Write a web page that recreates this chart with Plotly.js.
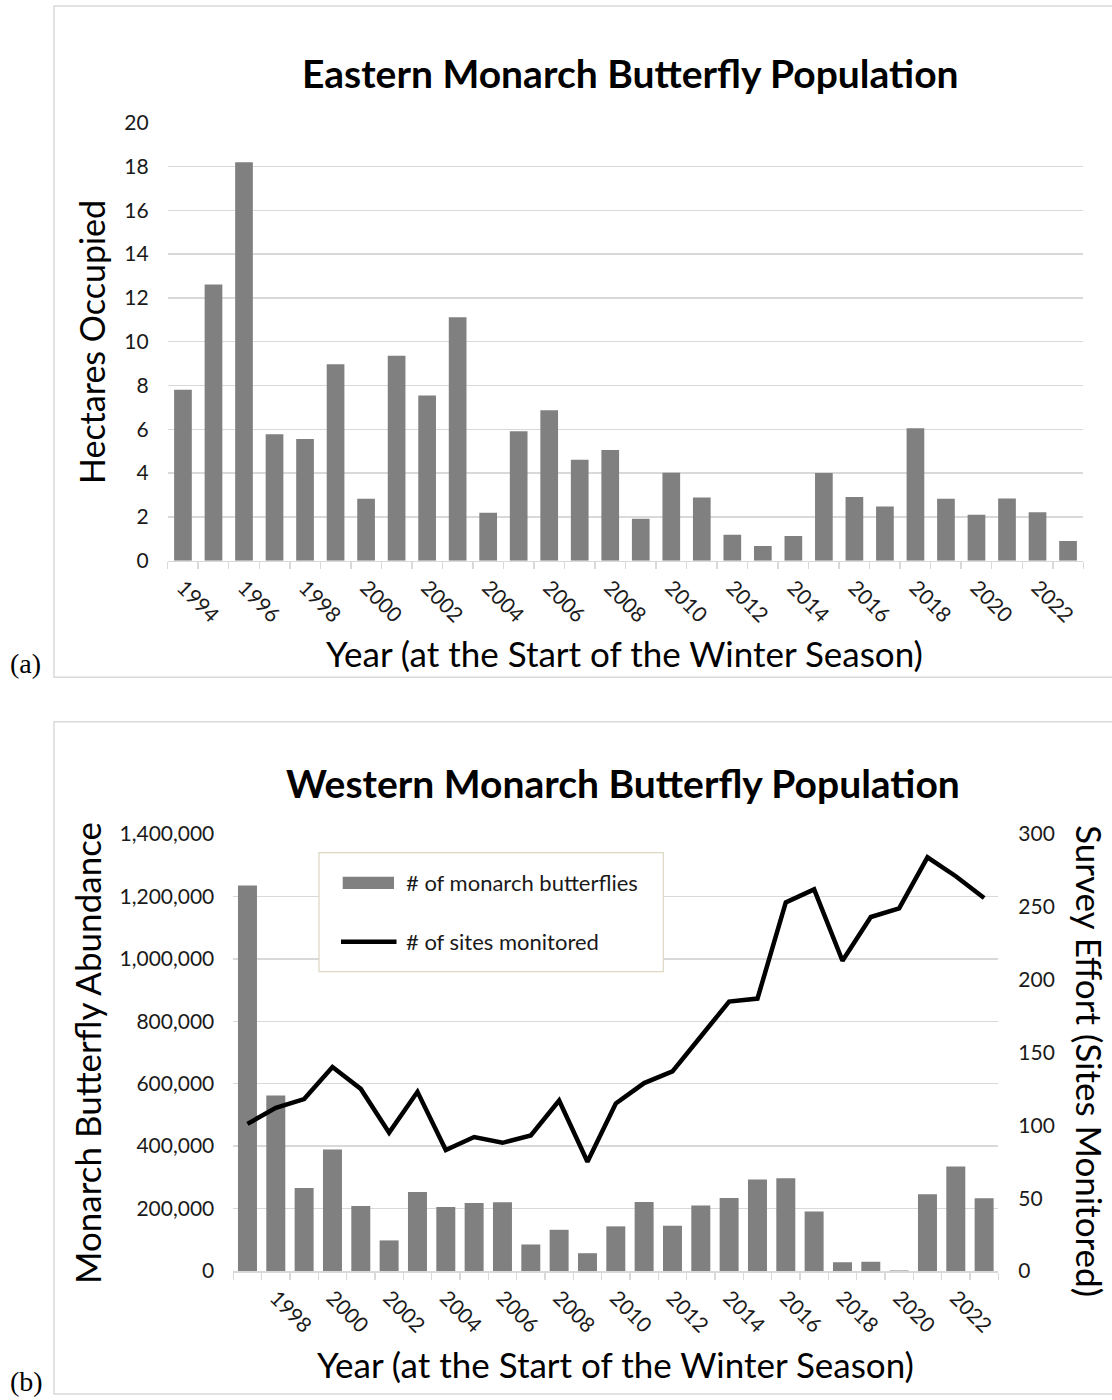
<!DOCTYPE html>
<html>
<head>
<meta charset="utf-8">
<script src="https://cdn.plot.ly/plotly-3.0.1.min.js"></script>
<style>html,body{margin:0;padding:0;background:#fff}</style>
</head>
<body>
<div id="chart" style="width:1112px;height:1400px"></div>
<script>
// ---- Panel (a): Eastern population ----
const eastYears = [1994,1995,1996,1997,1998,1999,2000,2001,2002,2003,2004,2005,2006,2007,2008,2009,2010,2011,2012,2013,2014,2015,2016,2017,2018,2019,2020,2021,2022,2023];
const eastHectares = [7.81,12.61,18.19,5.77,5.56,8.97,2.83,9.36,7.54,11.12,2.19,5.91,6.87,4.61,5.06,1.92,4.02,2.89,1.19,0.67,1.13,4.01,2.91,2.48,6.05,2.83,2.10,2.84,2.21,0.90];
const eastTickYears = [1994,1996,1998,2000,2002,2004,2006,2008,2010,2012,2014,2016,2018,2020,2022];
const eastTickLabels = ["1994","1996","1998","2000","2002","2004","2006","2008","2010","2012","2014","2016","2018","2020","2022"];

// ---- Panel (b): Western population ----
const westYears = [1997,1998,1999,2000,2001,2002,2003,2004,2005,2006,2007,2008,2009,2010,2011,2012,2013,2014,2015,2016,2017,2018,2019,2020,2021,2022,2023];
const westButterflies = [1235000,562000,266000,389000,208000,98000,253000,205000,218000,220000,85000,132000,57000,143000,221000,145000,210000,234000,293000,297000,191000,28000,30000,2000,246000,335000,233000];
const westSites = [101,112,118,140,125,95,123,83,92,88,93,117,75,115,129,137,161,185,187,253,262,213,243,249,284,271,256];
const westTickYears = [1998,2000,2002,2004,2006,2008,2010,2012,2014,2016,2018,2020,2022];
const westTickLabels = ["1998","2000","2002","2004","2006","2008","2010","2012","2014","2016","2018","2020","2022"];

const W = 1112, H = 1400;
const px = v => v / W;
const py = v => 1 - v / H;

const FONT = 'Lato, "Open Sans", "DejaVu Sans", sans-serif';
const GRID = '#d9d9d9';
const BAR = '#808080';
const TXT = '#1a1a1a';

const traces = [
  {type:'bar', name:'Hectares Occupied', x:eastYears, y:eastHectares, xaxis:'x', yaxis:'y',
   marker:{color:BAR}, width:0.58},
  {type:'bar', name:'# of monarch butterflies', x:westYears, y:westButterflies, xaxis:'x2', yaxis:'y2',
   marker:{color:BAR}, width:0.67},
  {type:'scatter', mode:'lines', name:'# of sites monitored', x:westYears, y:westSites, xaxis:'x2', yaxis:'y3',
   line:{color:'#000', width:4.5}}
];

const tickFont = {family:FONT, size:21, color:TXT};

const layout = {
  width:W, height:H, margin:{l:0,r:0,t:0,b:0}, showlegend:false,
  paper_bgcolor:'#fff', plot_bgcolor:'rgba(0,0,0,0)',
  font:{family:FONT, color:TXT},
  xaxis:{domain:[px(167.7), px(1083.3)], anchor:'y', range:[1993.5,2023.5],
    tickmode:'array', tickvals:eastTickYears, ticktext:eastTickLabels, tickangle:45,
    ticks:'', showline:true, linecolor:GRID, linewidth:1.5, showgrid:false, zeroline:false,
    minor:{tickmode:'linear', tick0:1993.5, dtick:1, ticks:'outside', ticklen:7, tickcolor:GRID, tickwidth:1.5, showgrid:false},
    tickfont:tickFont, ticklabelstandoff:5, fixedrange:true},
  yaxis:{domain:[py(560.7), py(122.7)], anchor:'x', range:[0,20], tickmode:'linear', tick0:0, dtick:2,
    showgrid:true, gridcolor:GRID, gridwidth:1.5, zeroline:false, showline:false, ticks:'',
    tickfont:tickFont, ticklabelstandoff:18, fixedrange:true},
  xaxis2:{domain:[px(233.3), px(998.3)], anchor:'y2', range:[1996.5,2023.5],
    tickmode:'array', tickvals:westTickYears, ticktext:westTickLabels, tickangle:45,
    ticks:'', showline:true, linecolor:GRID, linewidth:1.5, showgrid:false, zeroline:false,
    minor:{tickmode:'linear', tick0:1996.5, dtick:1, ticks:'outside', ticklen:7, tickcolor:GRID, tickwidth:1.5, showgrid:false},
    tickfont:tickFont, ticklabelstandoff:5, fixedrange:true},
  yaxis2:{domain:[py(1271), py(834)], anchor:'x2', range:[0,1400000], tickmode:'linear', tick0:0, dtick:200000,
    tickformat:',d', showgrid:true, gridcolor:GRID, gridwidth:1.5, zeroline:false, showline:false, ticks:'',
    tickfont:tickFont, ticklabelstandoff:18, fixedrange:true},
  yaxis3:{overlaying:'y2', side:'right', anchor:'x2', range:[0,300], tickmode:'linear', tick0:0, dtick:50,
    showgrid:false, zeroline:false, showline:false, ticks:'', tickfont:tickFont, ticklabelstandoff:19, fixedrange:true},
  shapes:[
    {type:'rect', xref:'paper', yref:'paper', x0:px(54), x1:px(1130), y0:py(677.3), y1:py(6), line:{color:GRID, width:1.5}, fillcolor:'rgba(0,0,0,0)', layer:'below'},
    {type:'rect', xref:'paper', yref:'paper', x0:px(54), x1:px(1130), y0:py(1394), y1:py(721.7), line:{color:GRID, width:1.5}, fillcolor:'rgba(0,0,0,0)', layer:'below'},
    // legend box
    {type:'rect', xref:'paper', yref:'paper', x0:px(319), x1:px(663.3), y0:py(971.7), y1:py(852.7), line:{color:'#dcd8c2', width:1.2}, fillcolor:'#ffffff', layer:'above'},
    {type:'rect', xref:'paper', yref:'paper', x0:px(342.7), x1:px(394), y0:py(889), y1:py(876.7), line:{width:0}, fillcolor:BAR, layer:'above'},
    {type:'line', xref:'paper', yref:'paper', x0:px(341), x1:px(396.5), y0:py(941.7), y1:py(941.7), line:{color:'#000', width:4.5}, layer:'above'}
  ],
  annotations:[
    {text:'<b>Eastern Monarch Butterfly Population</b>', xref:'paper', yref:'paper', x:px(630), y:py(73), showarrow:false, xanchor:'center', yanchor:'middle', font:{family:FONT, size:39, color:'#000'}},
    {text:'Hectares Occupied', xref:'paper', yref:'paper', x:px(92), y:py(342), showarrow:false, textangle:-90, xanchor:'center', yanchor:'middle', font:{family:FONT, size:34, color:'#000'}},
    {text:'Year (at the Start of the Winter Season)', xref:'paper', yref:'paper', x:px(624), y:py(653), showarrow:false, xanchor:'center', yanchor:'middle', font:{family:FONT, size:35, color:'#000'}},
    {text:'(a)', xref:'paper', yref:'paper', x:px(25), y:py(663), showarrow:false, xanchor:'center', yanchor:'middle', font:{family:'"Liberation Serif", "DejaVu Serif", serif', size:28, color:'#000'}},
    {text:'<b>Western Monarch Butterfly Population</b>', xref:'paper', yref:'paper', x:px(623), y:py(783), showarrow:false, xanchor:'center', yanchor:'middle', font:{family:FONT, size:39, color:'#000'}},
    {text:'Monarch Butterfly Abundance', xref:'paper', yref:'paper', x:px(87), y:py(1053), showarrow:false, textangle:-90, xanchor:'center', yanchor:'middle', font:{family:FONT, size:35, color:'#000'}},
    {text:'Survey Effort (Sites Monitored)', xref:'paper', yref:'paper', x:px(1090), y:py(1061), showarrow:false, textangle:90, xanchor:'center', yanchor:'middle', font:{family:FONT, size:35, color:'#000'}},
    {text:'Year (at the Start of the Winter Season)', xref:'paper', yref:'paper', x:px(615), y:py(1364), showarrow:false, xanchor:'center', yanchor:'middle', font:{family:FONT, size:35, color:'#000'}},
    {text:'(b)', xref:'paper', yref:'paper', x:px(26), y:py(1381), showarrow:false, xanchor:'center', yanchor:'middle', font:{family:'"Liberation Serif", "DejaVu Serif", serif', size:28, color:'#000'}},
    {text:'# of monarch butterflies', xref:'paper', yref:'paper', x:px(404), y:py(882), showarrow:false, xanchor:'left', yanchor:'middle', font:{family:FONT, size:22, color:TXT}},
    {text:'# of sites monitored', xref:'paper', yref:'paper', x:px(404), y:py(941), showarrow:false, xanchor:'left', yanchor:'middle', font:{family:FONT, size:22, color:TXT}}
  ]
};

Plotly.newPlot('chart', traces, layout, {staticPlot:true, displayModeBar:false});
</script>
</body>
</html>
